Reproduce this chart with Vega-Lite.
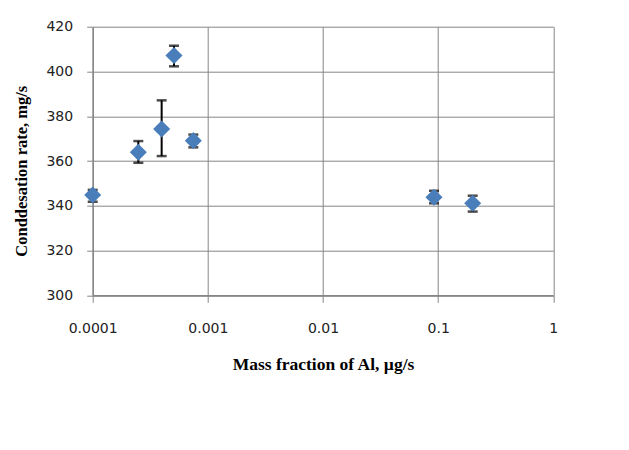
{
  "$schema": "https://vega.github.io/schema/vega-lite/v6.json",
  "autosize": {"type": "none"},
  "padding": {"left": 92.7, "top": 26.7, "right": 75.7, "bottom": 154.7},
  "width": 460.6,
  "height": 268.6,
  "background": "white",
  "config": {
    "view": {"stroke": null},
    "axis": {
      "gridColor": "#868686",
      "gridWidth": 1,
      "gridOpacity": 1,
      "domainColor": "#868686",
      "domainWidth": 1.5,
      "tickColor": "#868686",
      "tickWidth": 1,
      "labelFont": "DejaVu Sans",
      "labelFontSize": 14,
      "labelColor": "#222222",
      "titleFont": "Liberation Serif",
      "titleFontSize": 16.5,
      "titleFontWeight": "bold",
      "titleColor": "#000000"
    }
  },
  "data": {
    "values": [
      {"x": 0.0001, "y": 344.8, "lo": 341.8, "hi": 347.1},
      {"x": 0.000249, "y": 363.9, "lo": 359.2, "hi": 368.9},
      {"x": 0.000397, "y": 374.3, "lo": 362.2, "hi": 387.1},
      {"x": 0.000508, "y": 407.1, "lo": 402.3, "hi": 411.5},
      {"x": 0.000748, "y": 369.1, "lo": 366.1, "hi": 371.8},
      {"x": 0.092, "y": 343.8, "lo": 341.1, "hi": 346.7},
      {"x": 0.1995, "y": 341.1, "lo": 337.4, "hi": 344.5}
    ]
  },
  "encoding": {
    "x": {
      "field": "x",
      "type": "quantitative",
      "scale": {"type": "log", "domain": [0.0001, 1], "nice": false},
      "axis": {
        "values": [0.0001, 0.001, 0.01, 0.1, 1],
        "format": "~g",
        "tickSize": 7,
        "labelPadding": 19,
        "labelFlush": false,
        "title": "Mass fraction of Al, µg/s",
        "titleFontSize": 17.5,
        "titleY": 60,
        "titleBaseline": "top"
      }
    }
  },
  "layer": [
    {
      "mark": {"type": "rule", "color": "#000000", "strokeWidth": 2},
      "encoding": {
        "y": {
          "field": "lo",
          "type": "quantitative",
          "scale": {"domain": [300, 420], "nice": false, "zero": false},
          "axis": {
            "values": [300, 320, 340, 360, 380, 400, 420],
            "tickSize": 6,
            "labelPadding": 14,
            "title": "Conddesation rate, mg/s",
            "titleX": -71,
            "titleY": 144,
            "titleBaseline": "middle",
            "titleAngle": -90
          }
        },
        "y2": {"field": "hi"}
      }
    },
    {
      "mark": {"type": "tick", "color": "#000000", "orient": "horizontal", "size": 10, "thickness": 2.5},
      "encoding": {"y": {"field": "lo", "type": "quantitative"}}
    },
    {
      "mark": {"type": "tick", "color": "#000000", "orient": "horizontal", "size": 10, "thickness": 2.5},
      "encoding": {"y": {"field": "hi", "type": "quantitative"}}
    },
    {
      "mark": {"type": "point", "shape": "diamond", "filled": true, "color": "#4A7EBB", "opacity": 1, "size": 290},
      "encoding": {"y": {"field": "y", "type": "quantitative"}}
    }
  ]
}
